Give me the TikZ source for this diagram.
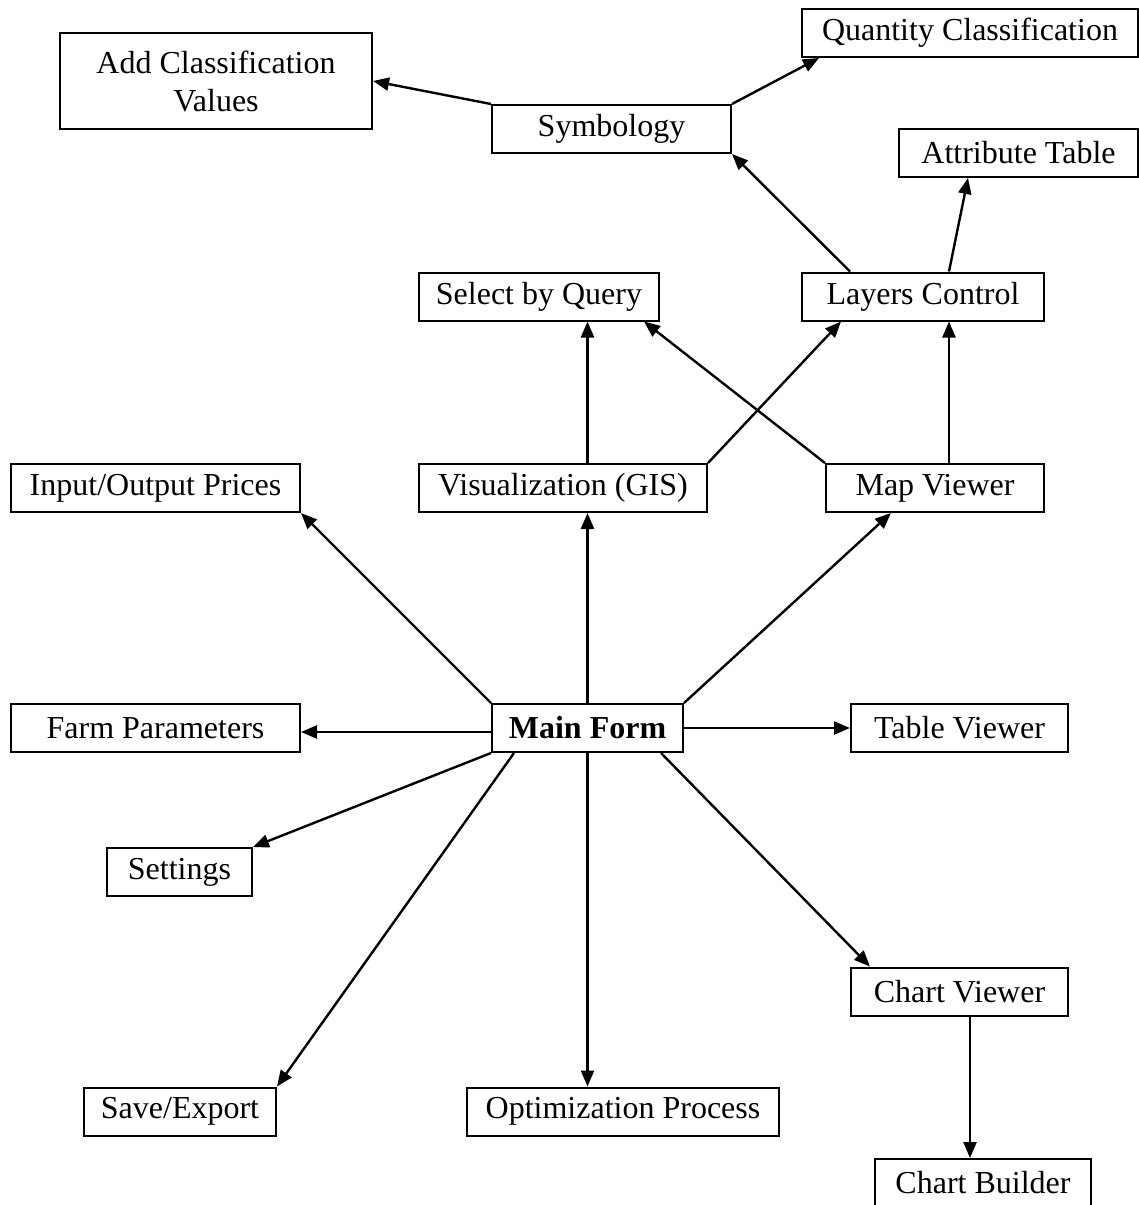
\documentclass[tikz,border=0pt]{standalone}
\usepackage{fontspec}
\setmainfont{Liberation Serif}
\usetikzlibrary{arrows.meta}
\tikzset{box/.style={draw, line width=1pt, align=center, minimum height=24pt, inner sep=0pt, font=\fontsize{16}{19}\selectfont}}
\begin{document}
\begin{tikzpicture}[x=0.5pt, y=-0.5pt, line width=1.2pt, >={Triangle[length=8pt,width=6.5pt]}]
            \useasboundingbox (0,0) rectangle (1139,1205);
            \node[box, minimum width=156pt, minimum height=48pt] (addclass) at (216,81) {Add Classification\\Values};
            \node[box, minimum width=168pt] (quantity) at (970,33) {Quantity Classification};
            \node[box, minimum width=119.5pt] (symbology) at (611.5,129) {Symbology};
            \node[box, minimum width=119.5pt] (attribute) at (1018.5,153) {Attribute Table};
            \node[box, minimum width=120pt] (select) at (539,296.5) {Select by Query};
            \node[box, minimum width=121pt] (layers) at (923,296.5) {Layers Control};
            \node[box, minimum width=144.5pt] (io) at (155.5,488) {Input/Output Prices};
            \node[box, minimum width=144pt] (visual) at (563,488) {Visualization (GIS)};
            \node[box, minimum width=109pt] (mapviewer) at (935,488) {Map Viewer};
            \node[box, minimum width=144.5pt] (farm) at (155.5,728) {Farm Parameters};
            \node[box, minimum width=95.5pt, font=\fontsize{16}{19}\selectfont\bfseries] (mainform) at (587.5,728) {Main Form};
            \node[box, minimum width=108.5pt] (table) at (959.5,728) {Table Viewer};
            \node[box, minimum width=72.5pt] (settings) at (179.5,872) {Settings};
            \node[box, minimum width=108.5pt] (chartviewer) at (959.5,991.5) {Chart Viewer};
            \node[box, minimum width=96pt] (save) at (180,1111.5) {Save/Export};
            \node[box, minimum width=156pt] (optim) at (623,1111.5) {Optimization Process};
            \node[box, minimum width=108pt] (builder) at (983,1183) {Chart Builder};

            \draw[->] (symbology.north west) to (addclass.east); \draw[->] (symbology.north east) to ([xshift=9pt]quantity.south west);
            \draw[->] ([xshift=24.5pt]layers.north west) to (symbology.south east); \draw[->] ([xshift=-48pt]layers.north east) to ([xshift=35pt]attribute.south west);
            \draw[->] (visual.north -| mainform.north) to (select.south -| mainform.north); \draw[->] (visual.north east) to ([xshift=20pt]layers.south west);
            \draw[->] (mapviewer.north west) to ([xshift=-8pt]select.south east); \draw[->] ([xshift=-48pt]mapviewer.north east) to ([xshift=-48pt]layers.south east);
            \draw[->] (mainform.north west) to (io.south east); \draw[->] (mainform.north) to (visual.south -| mainform.north); \draw[->] (mainform.north east) to ([xshift=33pt]mapviewer.south west);
            \draw[->] ([yshift=-2pt]mainform.west) to ([yshift=-2pt]farm.east); \draw[->] (mainform.east) to (table.west);
            \draw[->] (mainform.south west) to (settings.north east); \draw[->] ([xshift=11.5pt]mainform.south west) to (save.north east);
            \draw[->] (mainform.south) to (optim.north -| mainform.south); \draw[->] ([xshift=-11.5pt]mainform.south east) to ([xshift=10pt]chartviewer.north west);
            \draw[->] ([xshift=60pt]chartviewer.south west) to ([xshift=48pt]builder.north west);
        \end{tikzpicture}
\end{document}
